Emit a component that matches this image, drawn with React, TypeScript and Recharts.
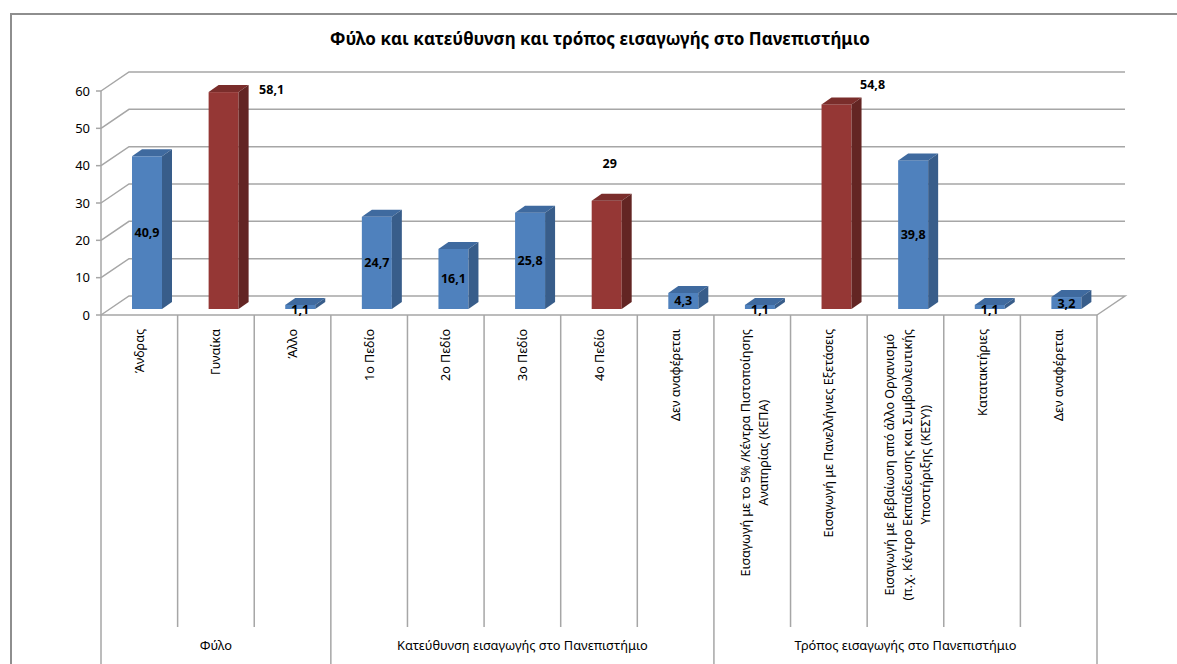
import { BarChart, Bar, XAxis, YAxis, CartesianGrid, LabelList } from 'recharts'

const categories = [
  'Άνδρας',
  'Γυναίκα',
  'Άλλο',
  '1ο Πεδίο',
  '2ο Πεδίο',
  '3ο Πεδίο',
  '4ο Πεδίο',
  'Δεν αναφέρεται',
  'Εισαγωγή με το 5% /Κέντρα Πιστοποίησης\nΑναπηρίας (ΚΕΠΑ)',
  'Εισαγωγή με Πανελλήνιες Εξετάσεις',
  'Εισαγωγή με βεβαίωση από άλλο Οργανισμό\n(π.χ. Κέντρο Εκπαίδευσης και Συμβουλευτικής\nΥποστήριξης (ΚΕΣΥ))',
  'Κατατακτήριες',
  'Δεν αναφέρεται',
]
const values = [40.9, 58.1, 1.1, 24.7, 16.1, 25.8, 29, 4.3, 1.1, 54.8, 39.8, 1.1, 3.2]
const groupNames = ['Φύλο', 'Κατεύθυνση εισαγωγής στο Πανεπιστήμιο', 'Τρόπος εισαγωγής στο Πανεπιστήμιο']
const groupSizes = [3, 5, 5]
const yTicks = [0, 10, 20, 30, 40, 50, 60]

const W = 1177
const H = 664
const PLOT_LEFT = 101
const PLOT_RIGHT = 1097
const PLOT_TOP = 91
const PLOT_BOTTOM = 315
const BAND = (PLOT_RIGHT - PLOT_LEFT) / categories.length
// 3d offsets
const WALL_DX = 28
const WALL_DY = 19
const BAR_DX = 8
const BAR_DY = 6
const DEPTH_X = 10
const DEPTH_Y = 7
const LABEL_TOP = 329
const LINE_H = 18
const TICK_FONT = 12.6
const FONT = '"Noto Sans", "Open Sans", sans-serif'
const GRID = '#a6a6a6'

const groupStarts = groupSizes.map((_, g) => groupSizes.slice(0, g).reduce((a, b) => a + b, 0))

const data = categories.map((name, i) => {
  const g = groupStarts.filter((s) => s <= i).length - 1
  const inGroup = values.slice(groupStarts[g], groupStarts[g] + groupSizes[g])
  return { name, value: values[i], highlight: values[i] === Math.max(...inGroup) }
})

// nudges for the labels of red bars (label sits outside the bar)
const RED_LABEL_NUDGE: Record<number, [number, number]> = {
  1: [48, -3],
  6: [3, -37],
  9: [36, -20],
}

let ctx: CanvasRenderingContext2D | null = null
const measure = (s: string) => {
  if (!ctx) ctx = document.createElement('canvas').getContext('2d')
  if (!ctx) return s.length * 6.6
  ctx.font = `${TICK_FONT}px ${FONT}`
  return ctx.measureText(s).width
}

const colors = {
  blue: { front: '#4f81bd', side: '#385d8a', top: '#3f6a9f' },
  red: { front: '#953735', side: '#632523', top: '#7a2d2b' },
}

const Bar3D = (props: any) => {
  const { x, y, width, height, payload } = props
  if (width == null || height == null) return null
  const c = payload.highlight ? colors.red : colors.blue
  const fx = x + BAR_DX
  const fy = y - BAR_DY
  const h = Math.max(height, 0)
  return (
    <g>
      <rect x={fx} y={fy} width={width} height={h} fill={c.front} />
      <polygon
        points={`${fx},${fy} ${fx + DEPTH_X},${fy - DEPTH_Y} ${fx + width + DEPTH_X},${fy - DEPTH_Y} ${fx + width},${fy}`}
        fill={c.top}
      />
      <polygon
        points={`${fx + width},${fy} ${fx + width + DEPTH_X},${fy - DEPTH_Y} ${fx + width + DEPTH_X},${fy + h - DEPTH_Y} ${fx + width},${fy + h}`}
        fill={c.side}
      />
    </g>
  )
}

const ValueLabel = (props: any) => {
  const { x, y, width, height, value, index } = props
  const txt = String(value).replace('.', ',')
  const cx = x + width / 2 + BAR_DX
  let lx = cx
  let ly = y + height / 2 - BAR_DY
  if (data[index].highlight) {
    const [nx, ny] = RED_LABEL_NUDGE[index] ?? [0, -15]
    lx = cx + nx
    ly = y - BAR_DY + ny
  } else if (height < 10) {
    ly = y + height - BAR_DY
  }
  return (
    <text x={lx} y={ly} textAnchor="middle" dominantBaseline="central" fontFamily={FONT} fontSize={12.5} fontWeight="bold" fill="#000">
      {txt}
    </text>
  )
}

const CategoryTick = (props: any) => {
  const { x, payload } = props
  const i = payload.index
  const lines = String(payload.value).split('\n')
  const maxLen = Math.max(...lines.map(measure))
  const isGroupStart = groupStarts.includes(i)
  const last = i === categories.length - 1
  const g = groupStarts.indexOf(i)
  const groupCenter = g >= 0 ? x + ((groupSizes[g] - 1) / 2) * BAND : 0
  return (
    <g>
      <line x1={x - BAND / 2} y1={PLOT_BOTTOM} x2={x - BAND / 2} y2={isGroupStart ? H : 627} stroke={GRID} strokeWidth={1.5} />
      {last && <line x1={x + BAND / 2} y1={PLOT_BOTTOM} x2={x + BAND / 2} y2={H} stroke={GRID} strokeWidth={1.5} />}
      <g transform={`translate(${x + (lines.length > 1 ? 2 : 0)}, ${LABEL_TOP}) rotate(-90)`}>
        {lines.map((ln, k) => (
          <text
            key={k}
            x={-maxLen / 2}
            y={(k - (lines.length - 1) / 2) * LINE_H}
            textAnchor="middle"
            dominantBaseline="central"
            fontFamily={FONT}
            fontSize={TICK_FONT}
            fill="#000"
          >
            {ln}
          </text>
        ))}
      </g>
      {g >= 0 && (
        <text x={groupCenter} y={645} textAnchor="middle" dominantBaseline="central" fontFamily={FONT} fontSize={12.8} fill="#000">
          {groupNames[g]}
        </text>
      )}
    </g>
  )
}

const gridLine = (p: any) => {
  const { x1, y1, x2, key } = p
  const isFloor = Math.abs(y1 - PLOT_BOTTOM) < 1
  return (
    <g key={key}>
      <polyline
        points={`${x1},${y1} ${x1 + WALL_DX},${y1 - WALL_DY} ${x2 + WALL_DX},${y1 - WALL_DY}${isFloor ? ` ${x2},${y1}` : ''}`}
        fill="none"
        stroke={GRID}
        strokeWidth={1.5}
      />
    </g>
  )
}

export default function App() {
  return (
    <div style={{ position: 'absolute', left: 0, top: 0, width: W, height: H, overflow: 'hidden', background: '#fff' }}>
      <div
        style={{
          position: 'absolute',
          left: 10,
          top: 13,
          width: 1200,
          height: 700,
          border: '2px solid #8e8e8e',
        }}
      />
      <div
        style={{
          position: 'absolute',
          left: 0,
          top: 27,
          width: 1200,
          textAlign: 'center',
          fontFamily: FONT,
          fontWeight: 'bold',
          fontSize: 17,
          color: '#000',
        }}
      >
        Φύλο και κατεύθυνση και τρόπος εισαγωγής στο Πανεπιστήμιο
      </div>
      <div style={{ position: 'absolute', left: 0, top: 0 }}>
        <BarChart
          width={W}
          height={H}
          data={data}
          margin={{ top: PLOT_TOP, right: W - PLOT_RIGHT, bottom: 0, left: 0 }}
          barSize={30}
        >
          <CartesianGrid vertical={false} horizontal={gridLine} />
          <XAxis
            dataKey="name"
            height={H - PLOT_BOTTOM}
            tickLine={false}
            axisLine={{ stroke: GRID, strokeWidth: 1.5 }}
            tick={<CategoryTick />}
            interval={0}
          />
          <YAxis
            width={PLOT_LEFT}
            domain={[0, 60]}
            ticks={yTicks}
            tickSize={5}
            tickMargin={6}
            axisLine={{ stroke: GRID, strokeWidth: 1.5 }}
            tickLine={{ stroke: GRID, strokeWidth: 1.5 }}
            tick={{ fontFamily: FONT, fontSize: 13, fill: '#000' }}
          />
          <Bar dataKey="value" shape={<Bar3D />} isAnimationActive={false}>
            <LabelList dataKey="value" content={<ValueLabel />} />
          </Bar>
        </BarChart>
      </div>
    </div>
  )
}
